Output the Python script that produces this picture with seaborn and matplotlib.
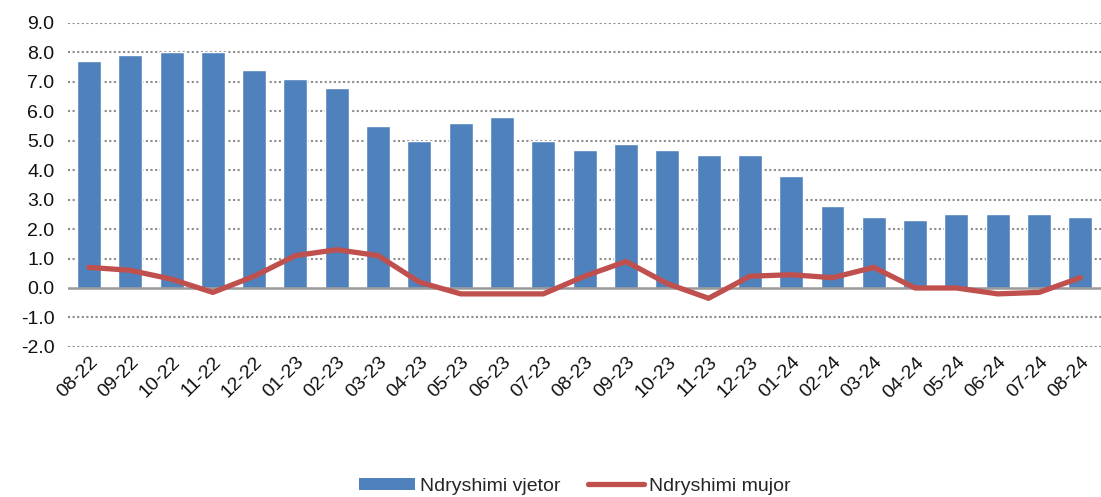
import numpy as np
import pandas as pd
import matplotlib
matplotlib.use("Agg")
from matplotlib import pyplot as plt
from matplotlib.patches import Patch
from matplotlib.lines import Line2D
import seaborn as sns

months = ['08-22', '09-22', '10-22', '11-22', '12-22', '01-23', '02-23', '03-23',
          '04-23', '05-23', '06-23', '07-23', '08-23', '09-23', '10-23', '11-23',
          '12-23', '01-24', '02-24', '03-24', '04-24', '05-24', '06-24', '07-24', '08-24']
vjetor = [7.7, 7.9, 8.0, 8.0, 7.4, 7.1, 6.8, 5.5, 5.0, 5.6, 5.8, 5.0, 4.7, 4.9, 4.7,
          4.5, 4.5, 3.8, 2.8, 2.4, 2.3, 2.5, 2.5, 2.5, 2.4]
mujor = [0.7, 0.6, 0.3, -0.15, 0.4, 1.1, 1.3, 1.1, 0.2, -0.2, -0.2, -0.2, 0.4, 0.9,
         0.15, -0.35, 0.4, 0.45, 0.35, 0.7, 0.0, 0.0, -0.2, -0.15, 0.35]

blue = '#4F81BD'
red = '#C0504D'

sns.set_style('white')
plt.rcParams['font.family'] = ['Liberation Sans', 'DejaVu Sans']

df = pd.DataFrame({'muaji': months, 'vjetor': vjetor, 'mujor': mujor})
df['pos'] = np.arange(len(df))

fig = plt.figure(figsize=(11.01, 4.97), dpi=100)
ax = fig.add_axes([0.062, 0.302, 0.938, 0.652])

sns.barplot(data=df, x='muaji', y='vjetor', color=blue, width=0.58,
            saturation=1, ax=ax, zorder=2)
sns.lineplot(data=df, x='pos', y='mujor', color=red, linewidth=3.8, ax=ax,
             zorder=3)

ax.set_ylim(-2, 9)
ax.set_xlim(-0.5, len(months) - 0.5)
ax.set_yticks(np.arange(-2, 10, 1))
ax.set_yticklabels([f'{v:.1f}' for v in np.arange(-2, 10, 1)], fontsize=14,
                   color='#111111')
ax.set_xticks(np.arange(len(months)))
ax.set_xticklabels(months, rotation=45, ha='right', rotation_mode='anchor',
                   fontsize=14, color='#111111')
ax.tick_params(axis='y', length=0, pad=10)
ax.tick_params(axis='x', length=0, pad=5)
ax.set_xlabel('')
ax.set_ylabel('')

for s in ax.spines.values():
    s.set_visible(False)
for v in np.arange(-2, 10, 1):
    if v != 0:
        ax.axhline(v, color='#8c8c8c', lw=1.5, ls=(0, (1, 1.2)), zorder=1)
ax.axhline(0, color='#999999', lw=1.8, zorder=2.5)

handles = [Patch(facecolor=blue, edgecolor='none'),
           Line2D([0], [0], color=red, lw=3.8)]
fig.legend(handles, ['Ndryshimi vjetor', 'Ndryshimi mujor'], loc='center',
           bbox_to_anchor=(0.522, 0.022), ncol=2, frameon=False, fontsize=14,
           handlelength=2.9, handleheight=0.55, handletextpad=0.25,
           columnspacing=1.4)

fig.savefig('out.png', dpi=100)
